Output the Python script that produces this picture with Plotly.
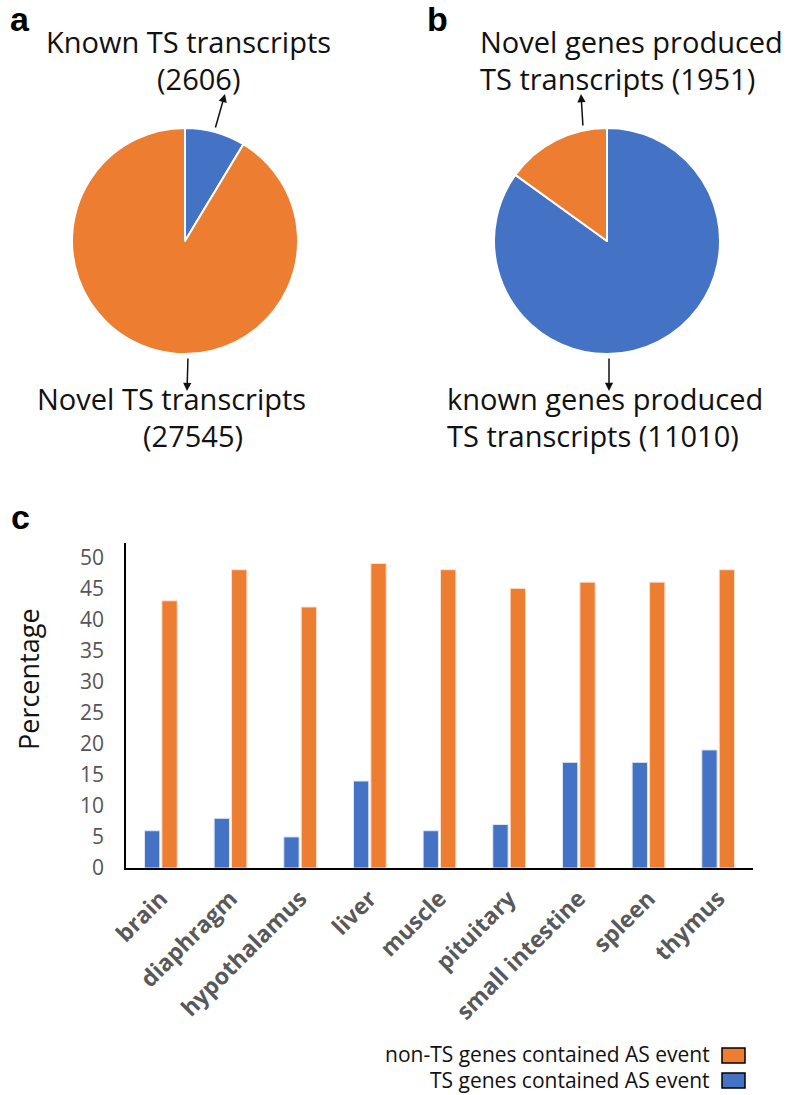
import plotly.graph_objects as go

W, H = 787, 1095

# Pie a data
pie_a_labels = ["Known TS transcripts", "Novel TS transcripts"]
pie_a_values = [2606, 27545]
# Pie b data
pie_b_labels = ["known genes produced TS transcripts", "Novel genes produced TS transcripts"]
pie_b_values = [11010, 1951]

# Bar chart data
tissues = ["brain", "diaphragm", "hypothalamus", "liver", "muscle",
           "pituitary", "small intestine", "spleen", "thymus"]
ts_pct = [6, 8, 5, 14, 6, 7, 17, 17, 19]
nonts_pct = [43, 48, 42, 49, 48, 45, 46, 46, 48]
y_ticks = [0, 5, 10, 15, 20, 25, 30, 35, 40, 45, 50]

BLUE = "#4472C4"
ORANGE = "#ED7D31"
FONT = "Open Sans"


def px_x(x):
    return x / W


def px_y(y):
    return 1 - y / H


fig = go.Figure()

fig.add_trace(go.Pie(
    labels=pie_a_labels, values=pie_a_values, sort=False, direction="clockwise",
    rotation=0, textinfo="none", hoverinfo="label+value",
    marker=dict(colors=[BLUE, ORANGE], line=dict(color="white", width=2)),
    domain=dict(x=[px_x(72), px_x(298)], y=[px_y(354), px_y(128)]),
    showlegend=False,
))
fig.add_trace(go.Pie(
    labels=pie_b_labels, values=pie_b_values, sort=False, direction="clockwise",
    rotation=0, textinfo="none", hoverinfo="label+value",
    marker=dict(colors=[BLUE, ORANGE], line=dict(color="white", width=2)),
    domain=dict(x=[px_x(494), px_x(720)], y=[px_y(354), px_y(128)]),
    showlegend=False,
))

fig.add_trace(go.Bar(
    x=tissues, y=ts_pct, name="TS genes contained AS event",
    marker=dict(color=BLUE, line=dict(color="#dfe7f5", width=1)),
    showlegend=False,
))
fig.add_trace(go.Bar(
    x=tissues, y=nonts_pct, name="non-TS genes contained AS event",
    marker=dict(color=ORANGE, line=dict(color="#fbe0cc", width=1)),
    showlegend=False,
))

annotations = []


def text_ann(txt, x, y, size=29, xanchor="center", color="#111111", bold=False, angle=0, family=FONT):
    annotations.append(dict(
        text=f"<b>{txt}</b>" if bold else txt,
        x=px_x(x), y=px_y(y), xref="paper", yref="paper",
        xanchor=xanchor, yanchor="middle", showarrow=False, textangle=angle,
        font=dict(family=family, size=size, color=color),
    ))


def arrow(x_tail, y_tail, x_head, y_head):
    annotations.append(dict(
        text="", x=px_x(x_head), y=px_y(y_head), xref="paper", yref="paper",
        ax=x_tail - x_head, ay=y_tail - y_head, showarrow=True,
        arrowhead=2, arrowsize=1.1, arrowwidth=1.5, arrowcolor="#111111",
    ))


# panel letters
text_ann("a", 20, 19, size=34, bold=True, family="Liberation Sans", color="black")
text_ann("b", 437, 19, size=34, bold=True, family="Liberation Sans", color="black")
text_ann("c", 20, 517, size=34, bold=True, family="Liberation Sans", color="black")

# pie a labels
text_ann("Known TS transcripts", 188, 41)
text_ann("(2606)", 198, 79)
text_ann("Novel TS transcripts", 171, 398)
text_ann("(27545)", 193, 435)
arrow(215, 129, 225, 94)
arrow(188, 357, 187, 391)

# pie b labels
text_ann("Novel genes produced", 478, 41, xanchor="left")
text_ann("TS transcripts (1951)", 478, 79, xanchor="left")
text_ann("known genes produced", 445, 398, xanchor="left")
text_ann("TS transcripts (11010)", 445, 435, xanchor="left")
arrow(583, 127, 581, 94)
arrow(609, 357, 609, 391)

# y axis title
text_ann("Percentage", 28, 679, size=27, angle=-90, color="#111111")

# manual legend
text_ann("non-TS genes contained AS event", 712, 1054, size=21, xanchor="right")
text_ann("TS genes contained AS event", 712, 1080, size=21, xanchor="right")

shapes = [
    dict(type="rect", xref="paper", yref="paper",
         x0=px_x(722), x1=px_x(745), y0=px_y(1063), y1=px_y(1048),
         fillcolor=ORANGE, line=dict(color="black", width=1.5)),
    dict(type="rect", xref="paper", yref="paper",
         x0=px_x(722), x1=px_x(745), y0=px_y(1088), y1=px_y(1073),
         fillcolor=BLUE, line=dict(color="black", width=1.5)),
]

fig.update_layout(
    width=W, height=H,
    margin=dict(l=0, r=0, t=0, b=0, autoexpand=False),
    paper_bgcolor="white", plot_bgcolor="white",
    font=dict(family=FONT, color="#111111"),
    barmode="group", bargap=0.5, bargroupgap=0.12,
    annotations=annotations, shapes=shapes,
    xaxis=dict(
        domain=[px_x(126), px_x(753)], anchor="y",
        showline=True, linecolor="black", linewidth=2,
        showgrid=False, ticks="", tickangle=-45,
        ticklabelstandoff=6, automargin=False,
        tickfont=dict(family=FONT, size=23, color="#595959", weight="bold"),
    ),
    yaxis=dict(
        domain=[px_y(868), px_y(543)], anchor="x",
        range=[0, 52.3], tickvals=y_ticks,
        showline=True, linecolor="black", linewidth=1.5,
        showgrid=False, zeroline=False, ticks="",
        ticklabelstandoff=16, automargin=False,
        tickfont=dict(family=FONT, size=21, color="#555555"),
    ),
)

fig.write_html("out.html", config={"displayModeBar": False},
               post_script="document.body.style.margin='0';")
